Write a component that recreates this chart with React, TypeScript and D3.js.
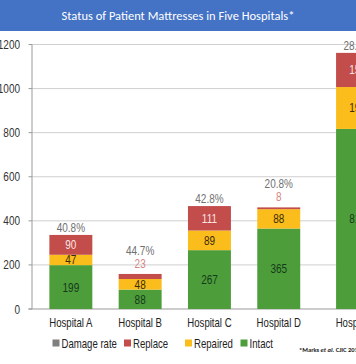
import React from "react";
import * as d3 from "d3";

const hospitals = ["Hospital A", "Hospital B", "Hospital C", "Hospital D", "Hospital E"];
const intact = [199, 88, 267, 365, 817];
const repaired = [47, 48, 89, 88, 190];
const replace = [90, 23, 111, 8, 155];
const damageRate = ["40.8%", "44.7%", "42.8%", "20.8%", "28.4%"];
const yTicks = [0, 200, 400, 600, 800, 1000, 1200];
const legendItems = ["Damage rate", "Replace", "Repaired", "Intact"];

const W = 356;
const H = 364;
const COLORS: Record<string, string> = {
  intact: "#4d9e3b",
  repaired: "#fbbd1b",
  replace: "#c24d4b",
  rate: "#7f7f7f",
};
const LABEL_COLORS: Record<string, string> = {
  intact: "#16391a",
  repaired: "#3a2c06",
  replace: "#fbe4e4",
};
const FONT = "'Liberation Sans', Arial, sans-serif";
const SX = 0.8;
// the last hospital sits a little further from the others in the original
const LAST_GAP = 9.5;

function T(props: {
  x: number;
  y: number;
  anchor?: string;
  size?: number;
  fill?: string;
  children: any;
}) {
  const { x, y, anchor = "start", size = 12, fill = "#222", children } = props;
  return (
    <text
      transform={`translate(${x},${y}) scale(${SX},1)`}
      textAnchor={anchor as any}
      fontFamily={FONT}
      fontSize={size}
      fill={fill}
    >
      {children}
    </text>
  );
}

export default function App() {
  const rows = hospitals.map((h, i) => ({
    name: h,
    intact: intact[i],
    repaired: repaired[i],
    replace: replace[i],
  }));
  const keys = ["intact", "repaired", "replace"];
  const series = d3.stack<any>().keys(keys)(rows);

  const y = d3.scaleLinear().domain([0, 1200]).range([309, 44.5]);
  const band = d3
    .scaleBand<string>()
    .domain(hospitals)
    .range([36.2, 382.7])
    .paddingInner(0.38)
    .paddingOuter(0.19);
  const xAt = (name: string) =>
    band(name)! + (name === hospitals[hospitals.length - 1] ? LAST_GAP : 0);
  const bw = band.bandwidth();
  const axisX = 32;
  const minInside = 8;

  const legendX = [52.5, 124, 185, 240.5];
  const legendColors = [COLORS.rate, COLORS.replace, COLORS.repaired, COLORS.intact];

  return (
    <svg
      width={W}
      height={H}
      style={{ position: "absolute", left: 0, top: 0, background: "#fff" }}
    >
      <rect x={0} y={0} width={W} height={H} fill="#fff" />
      {/* title bar */}
      <rect x={0} y={0} width={W} height={31} fill="#4472c4" />
      <text
        x={178}
        y={19.5}
        textAnchor="middle"
        fill="#ffffff"
        fontFamily="Carlito, 'Open Sans', Lato, sans-serif"
        fontSize={12.5}
      >
        Status of Patient Mattresses in Five Hospitals*
      </text>

      {/* gridlines and y ticks */}
      {yTicks.map((t) => (
        <g key={t}>
          {t > 0 && (
            <line x1={axisX} x2={W} y1={y(t)} y2={y(t)} stroke="#cfcfcf" strokeWidth={1} />
          )}
          <line x1={axisX - 3.5} x2={axisX} y1={y(t)} y2={y(t)} stroke="#9a9a9a" strokeWidth={1} />
          <T x={20} y={y(t) + 4.5} anchor="end" size={12.5} fill="#333">
            {t}
          </T>
        </g>
      ))}
      <line x1={axisX} x2={axisX} y1={y(1200)} y2={y(0)} stroke="#9a9a9a" strokeWidth={1} />
      <line x1={axisX - 3.5} x2={W} y1={y(0)} y2={y(0)} stroke="#9a9a9a" strokeWidth={1} />

      {/* bars */}
      {series.map((s) => (
        <g key={s.key}>
          {s.map((d, i) => {
            const x0 = xAt(hospitals[i]);
            const top = y(d[1]);
            const bottom = y(d[0]);
            const h = bottom - top;
            const val = d[1] - d[0];
            const inside = s.key !== "replace" || h >= minInside;
            return (
              <g key={i}>
                <rect x={x0} y={top} width={bw} height={h} fill={COLORS[s.key]} />
                {inside && (
                  <T
                    x={x0 + bw / 2}
                    y={(top + bottom) / 2 + 4.5}
                    anchor="middle"
                    size={12.5}
                    fill={LABEL_COLORS[s.key]}
                  >
                    {val}
                  </T>
                )}
              </g>
            );
          })}
        </g>
      ))}

      {/* outside labels: small replace values and damage rate */}
      {rows.map((r, i) => {
        const total = r.intact + r.repaired + r.replace;
        const top = y(total);
        const cx = xAt(r.name) + bw / 2;
        const replH = y(r.intact + r.repaired) - top;
        const outside = replH < minInside;
        return (
          <g key={r.name}>
            {outside && (
              <T x={cx} y={top - 6} anchor="middle" size={12.5} fill="#d48585">
                {r.replace}
              </T>
            )}
            <T x={cx} y={outside ? top - 19 : top - 3} anchor="middle" size={12.5} fill="#707070">
              {damageRate[i]}
            </T>
          </g>
        );
      })}

      {/* x labels */}
      {hospitals.map((h) => (
        <T key={h} x={xAt(h) + bw / 2} y={327} anchor="middle" size={12} fill="#222">
          {h}
        </T>
      ))}

      {/* legend */}
      {legendItems.map((l, i) => (
        <g key={l}>
          <rect x={legendX[i]} y={339.5} width={7} height={7} fill={legendColors[i]} />
          <T x={legendX[i] + 9} y={348} size={12} fill="#222">
            {l}
          </T>
        </g>
      ))}

      {/* footnote */}
      <text
        x={299}
        y={352}
        fontFamily="Carlito, 'Open Sans', sans-serif"
        fontSize={6.5}
        fill="#222"
        fontWeight="bold"
      >
        *Marks <tspan fontStyle="italic">et al.</tspan> CJIC 2015
      </text>
    </svg>
  );
}
